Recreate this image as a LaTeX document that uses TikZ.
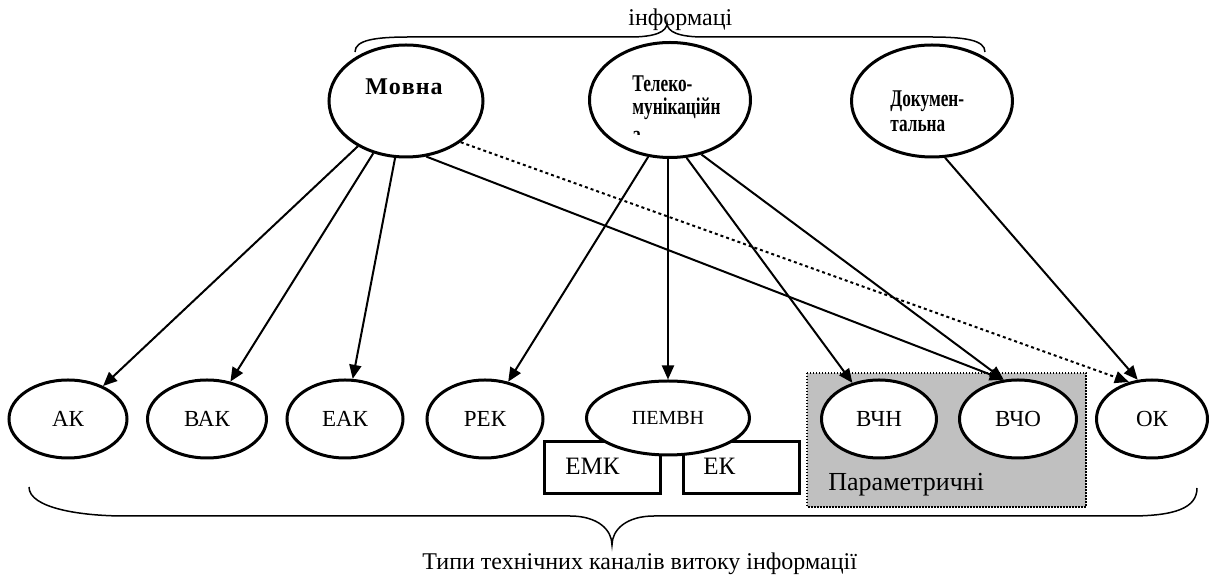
\documentclass[tikz,border=0pt]{standalone}
\usepackage{fontspec}
\usepackage{graphicx}
\setmainfont{Liberation Serif}
\newcommand{\cnd}[1]{\scalebox{0.72}[1]{\bfseries #1}}
\usetikzlibrary{arrows.meta,shapes.geometric}
\begin{document}
\begin{tikzpicture}[x=0.5pt,y=-0.5pt,
  oval/.style={ellipse,draw,line width=1.5pt,fill=white,inner sep=0pt},
  bottomoval/.style={oval,minimum height=39pt,font=\fontsize{11.5}{13}\selectfont},
  box/.style={draw,line width=1.5pt,fill=white,inner sep=0pt,anchor=north west,minimum width=58pt,minimum height=26pt},
  conn/.style={line width=1pt,-{Triangle[length=7pt,width=6pt]}},
  dotconn/.style={conn,dash pattern=on 1.5pt off 1.5pt},
  brace/.style={line width=0.75pt},
  lbl/.style={inner sep=0pt,anchor=base west},
  boldlbl/.style={inner sep=0pt,anchor=base west,font=\fontsize{12}{14}\selectfont},
]
\useasboundingbox (0,0) rectangle (1212,576);

% grey parametric area
\fill[fill={rgb,255:red,192;green,192;blue,192}] (807,373) rectangle (1086,507);
\draw[line width=0.75pt,dash pattern=on 0.75pt off 0.75pt] (807,373) rectangle (1086,507);
\node[lbl,font=\fontsize{13}{15}\selectfont] (param) at (828,491) {Параметричні};

% braces
\draw[brace] (355,52) .. controls (355,40) and (375,37) .. (410,37) -- (630,37)
  .. controls (655,37) and (667,32) .. (667,23)
  .. controls (667,32) and (679,37) .. (704,37) -- (930,37)
  .. controls (965,37) and (985,40) .. (985,52);
\node[lbl,font=\fontsize{12}{14}\selectfont] (inf) at (628,26) {інформаці};

\draw[brace] (29,487) .. controls (29,508) and (80,516) .. (125,516) -- (570,516)
  .. controls (598,516) and (612,530) .. (612,545)
  .. controls (612,530) and (626,516) .. (654,516) -- (1130,516)
  .. controls (1175,516) and (1197,508) .. (1197,488);
\node[lbl,font=\fontsize{12}{14}\selectfont] (title) at (422,570) {Типи технічних каналів витоку інформації};

% boxes under PEMVN
\node[box] (emk) at (543,440) {};
\node[box] (ek) at (682,440) {};
\node[lbl,font=\fontsize{12.5}{14}\selectfont] (emkt) at (565,475) {ЕМК};
\node[lbl,font=\fontsize{12.5}{14}\selectfont] (ekt) at (703,475) {ЕК};

% bottom ellipses
\node[bottomoval,minimum width=59pt] (ak) at (68,419) {АК};
\node[bottomoval,minimum width=59.5pt] (vak) at (207,419) {ВАК};
\node[bottomoval,minimum width=58pt] (eak) at (345,419) {ЕАК};
\node[bottomoval,minimum width=58pt] (rek) at (485,419) {РЕК};
\node[oval,minimum width=81.5pt,minimum height=37pt,font=\fontsize{10}{12}\selectfont] (pem) at (668,418) {ПЕМВН};
\node[bottomoval,minimum width=57.5pt] (vchn) at (879,419) {ВЧН};
\node[bottomoval,minimum width=58.5pt] (vcho) at (1018,419) {ВЧО};
\node[bottomoval,minimum width=55.5pt] (ok) at (1152,419) {ОК};

% top ellipses
\node[oval,minimum width=77pt,minimum height=56pt] (mov) at (406,101) {};
\node[oval,minimum width=80.5pt,minimum height=57.5pt] (tel) at (670,100) {};
\node[oval,minimum width=80.5pt,minimum height=56pt] (doc) at (932,101) {};

\node[inner sep=0pt,anchor=base,font=\bfseries\fontsize{12}{14}\selectfont] (movt) at (404,95) {М\kern0.5pt о\kern0.5pt в\kern0.5pt н\kern0.5pt а};
\begin{scope}
  \clip (600,60) rectangle (760,135);
  \node[boldlbl] (tel1) at (632,92) {\cnd{Телеко-}};
  \node[boldlbl] (tel2) at (632,115) {\cnd{мунікаційн}};
  \node[boldlbl] (tel3) at (632,143) {\cnd{а}};
\end{scope}
\node[boldlbl] (doc1) at (890,107) {\cnd{Докумен-}};
\node[boldlbl] (doc2) at (890,132) {\cnd{тальна}};

% connectors
\draw[conn] (mov) -- (ak);
\draw[conn] (mov) -- (vak);
\draw[conn] (mov) -- (eak);
\draw[conn] (mov.-70) -- (vcho.110);
\draw[dotconn] (mov.-37.5) -- (ok.122);
\draw[conn] (tel.-111) -- (rek);
\draw[conn] (pem.north |- tel.south) -- (pem.north);
\draw[conn] (tel.-74) -- (vchn);
\draw[conn] (tel.-60) -- (vcho.110);
\draw[conn] (doc.-77) -- (ok.110);
\end{tikzpicture}
\end{document}
